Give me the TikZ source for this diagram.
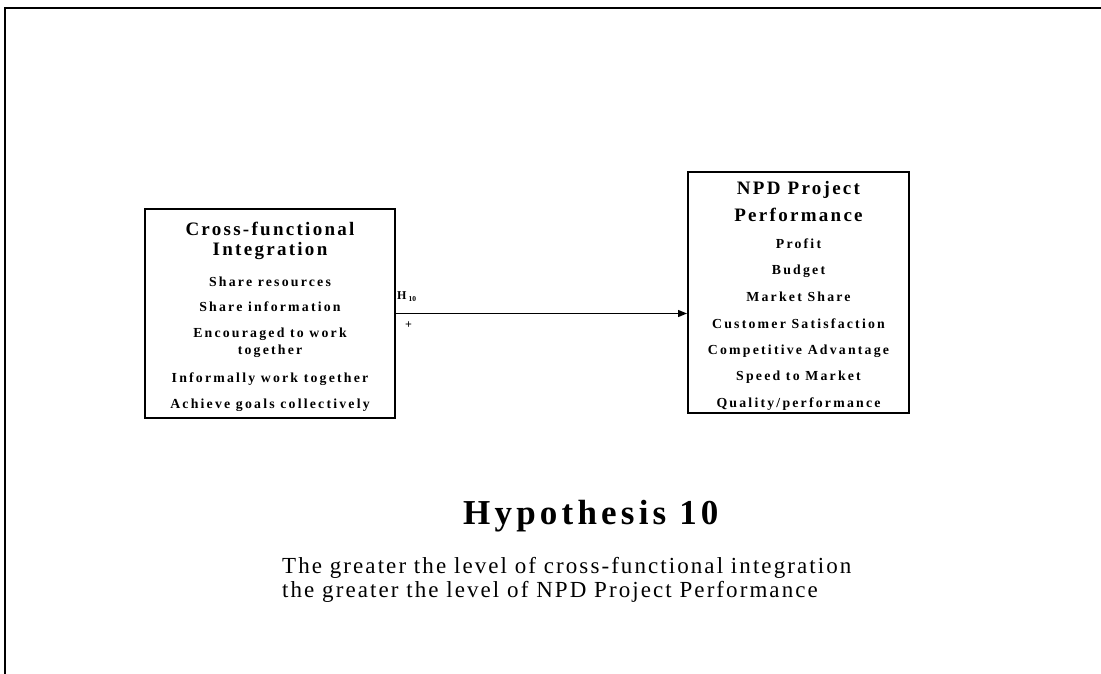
\documentclass[tikz,border=0pt]{standalone}
\usepackage{fontspec}
\setmainfont{Liberation Serif}
\usetikzlibrary{arrows.meta}
\tikzset{
  frameline/.style={line width=2pt, line cap=rect},
  boxframe/.style={draw, line width=2pt, inner sep=0pt},
  boxtitle/.style={font=\fontsize{19}{21}\selectfont\bfseries\addfontfeatures{LetterSpace=12}, inner sep=0pt},
  boxitem/.style={font=\fontsize{13.8}{15}\selectfont\bfseries\addfontfeatures{LetterSpace=16}, inner sep=0pt},
  link/.style={line width=1.3pt, -{Triangle[length=9pt,width=7pt]}},
  smalllabel/.style={font=\fontsize{12}{13}\selectfont\bfseries, inner sep=0pt},
  caption/.style={inner sep=0pt, anchor=base west, font=\fontsize{23}{27}\selectfont\addfontfeatures{LetterSpace=9}},
}
\begin{document}
\begin{tikzpicture}[x=1pt,y=1pt]
\useasboundingbox (0,0) rectangle (1101,674);
% outer frame (top and left edges)
\draw[frameline] (5,0) -- (5,666) -- (1101,666);

% left construct
\node[boxframe, minimum width=250, minimum height=209] (cfi) at (270,360.5) {};
\node[boxtitle] (cfiA) at (270,445) {Cross-functional};
\node[boxtitle] (cfiB) at (270,423) {Integration};
\node[boxitem] (cfi1) at (270,392) {Share resources};
\node[boxitem] (cfi2) at (270,367) {Share information};
\node[boxitem] (cfi3) at (270,340) {Encouraged to work};
\node[boxitem] (cfi3b) at (270,323) {together};
\node[boxitem] (cfi4) at (270,295) {Informally work together};
\node[boxitem] (cfi5) at (270,269) {Achieve goals collectively};

% right construct
\node[boxframe, minimum width=221, minimum height=241] (npd) at (798.5,381.5) {};
\node[boxtitle] (npdA) at (798.5,484) {NPD Project};
\node[boxtitle] (npdB) at (798.5,459) {Performance};
\node[boxitem] (npd1) at (798.5,430) {Profit};
\node[boxitem] (npd2) at (798.5,403) {Budget};
\node[boxitem] (npd3) at (798.5,377) {Market Share};
\node[boxitem] (npd4) at (798.5,350) {Customer Satisfaction};
\node[boxitem] (npd5) at (798.5,323) {Competitive Advantage};
\node[boxitem] (npd6) at (798.5,297) {Speed to Market};
\node[boxitem] (npd7) at (798.5,270) {Quality/performance};

% hypothesised link
\coordinate (src) at (cfi.east);
\coordinate (dst) at (npd.west |- src);
\draw[link] (src) -- (dst);
\node[smalllabel, anchor=west] (hlab) at (397,377) {H\,{\fontsize{7.5}{8}\selectfont\raisebox{-2pt}{10}}};
\node[smalllabel, anchor=west] (sign) at (405,349) {+};

% caption
\node[inner sep=0pt, anchor=base west, font=\fontsize{35}{39}\selectfont\bfseries\addfontfeatures{LetterSpace=12}] (hyp) at (463,149) {Hypothesis 10};
\node[caption] (stmt1) at (282,100) {The greater the level of cross-functional integration};
\node[caption] (stmt2) at (282,76) {the greater the level of NPD Project Performance};
\end{tikzpicture}
\end{document}
